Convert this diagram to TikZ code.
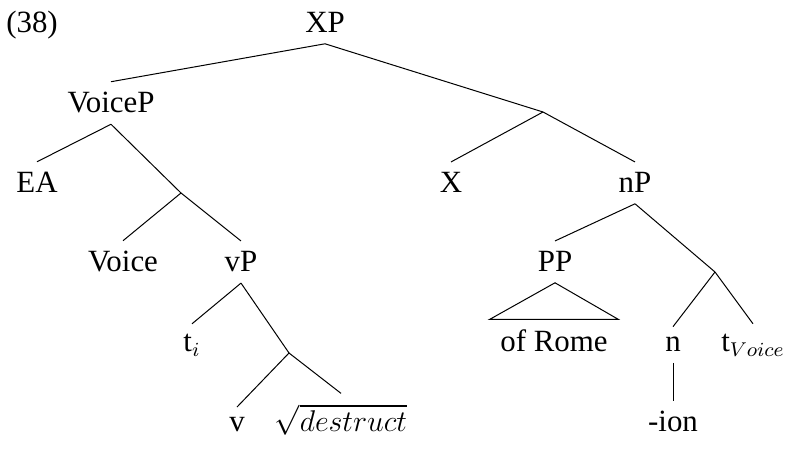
\documentclass[12pt,tikz,border=0pt]{standalone}
\usepackage{fontspec}
\setmainfont[Scale=1.03]{Liberation Serif}
\tikzset{lbl/.style={anchor=base}}

\begin{document}
\begin{tikzpicture}[x=0.4pt,y=-0.4pt]
\useasboundingbox (0,0) rectangle (790,450);

\node[lbl] (num) at (32,33) {(38)};
\node[lbl] (xp) at (325,33) {XP};

\node[lbl] (voicep) at (111,113) {VoiceP};
\node[lbl] (ea) at (37,193) {EA};
\node[lbl] (voice) at (123,272) {Voice};
\node[lbl] (vp) at (241,272) {vP};
\node[lbl] (ti) at (192,352) {t$_i$};
\node[lbl] (v) at (237,432) {v};
\node[lbl] (root) at (341,432) {$\sqrt{destruct}$};

\node[lbl] (x) at (451,193) {X};
\node[lbl] (np) at (635,193) {nP};
\node[lbl] (pp) at (555,272) {PP};
\node[lbl] (rome) at (554,352) {of Rome};
\node[lbl] (n) at (673,352) {n};
\node[lbl] (tvoice) at (753,352) {t$_{Voice}$};
\node[lbl] (ion) at (673,432) {-ion};

\coordinate (xbar) at (543,112);
\coordinate (voicebar) at (181,193);
\coordinate (vbar) at (289,353);
\coordinate (nbar) at (715,272);

\draw (xp.south) -- (voicep.north);
\draw (xp.south) -- (xbar);
\draw (voicep.south) -- (ea.north);
\draw (voicep.south) -- (voicebar);
\draw (voicebar) -- (voice.north);
\draw (voicebar) -- (vp.north);
\draw (vp.south) -- (ti.north);
\draw (vp.south) -- (vbar);
\draw (vbar) -- (v.north);
\draw (vbar) -- (root.north);

\draw (xbar) -- (x.north);
\draw (xbar) -- (np.north);
\draw (np.south) -- (pp.north);
\draw (np.south) -- (nbar);
\draw (pp.south) -- (rome.north west) -- (rome.north east) -- cycle;
\draw (nbar) -- (n.north);
\draw (nbar) -- (tvoice.north);
\draw (n.south) -- (n.south |- ion.north);
\end{tikzpicture}
\end{document}
